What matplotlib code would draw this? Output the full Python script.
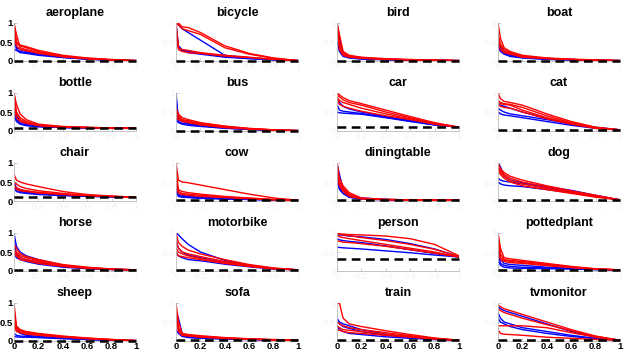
#!/usr/bin/env python3
import matplotlib
matplotlib.use("Agg")
import matplotlib.pyplot as plt

# recall points shared by every curve
recall = [0, 0.02, 0.05, 0.1, 0.2, 0.4, 0.6, 0.8, 1.0]

classes = ["aeroplane", "bicycle", "bird", "boat",
           "bottle", "bus", "car", "cat",
           "chair", "cow", "diningtable", "dog",
           "horse", "motorbike", "person", "pottedplant",
           "sheep", "sofa", "train", "tvmonitor"]

# chance level (dashed line) per class
baseline = [0.01, 0.01, 0.01, 0.01,
            0.07, 0.01, 0.1, 0.03,
            0.1, 0.02, 0.02, 0.03,
            0.03, 0.03, 0.32, 0.03,
            0.01, 0.02, 0.02, 0.02]

# precision at each recall point
aeroplane_red = [[1, 0.5, 0.42, 0.38, 0.28, 0.15, 0.08, 0.04, 0.01],
                 [0.9, 0.45, 0.4, 0.35, 0.25, 0.13, 0.07, 0.03, 0.01],
                 [1, 0.7, 0.35, 0.3, 0.22, 0.12, 0.06, 0.03, 0.01],
                 [0.6, 0.4, 0.3, 0.27, 0.2, 0.11, 0.06, 0.03, 0.01]]
aeroplane_blue = [[0.9, 0.3, 0.25, 0.22, 0.17, 0.1, 0.05, 0.03, 0.01],
                  [0.5, 0.35, 0.3, 0.25, 0.18, 0.1, 0.05, 0.02, 0.01],
                  [0.3, 0.28, 0.22, 0.2, 0.15, 0.09, 0.05, 0.02, 0.01]]

bicycle_red = [[1, 1, 0.9, 0.88, 0.75, 0.4, 0.2, 0.08, 0.01],
               [1, 0.95, 0.85, 0.8, 0.7, 0.35, 0.18, 0.07, 0.01],
               [1, 0.35, 0.3, 0.28, 0.22, 0.15, 0.1, 0.05, 0.01],
               [0.9, 0.3, 0.25, 0.22, 0.2, 0.13, 0.09, 0.04, 0.01]]
bicycle_blue = [[1, 0.95, 0.85, 0.75, 0.55, 0.15, 0.08, 0.04, 0.01],
                [1, 0.4, 0.3, 0.25, 0.2, 0.12, 0.07, 0.03, 0.01],
                [0.8, 0.35, 0.28, 0.22, 0.18, 0.1, 0.06, 0.03, 0.01]]

bird_red = [[1, 0.7, 0.25, 0.15, 0.1, 0.06, 0.04, 0.02, 0.01],
            [1, 0.5, 0.2, 0.13, 0.09, 0.05, 0.03, 0.02, 0.01],
            [0.9, 0.4, 0.18, 0.12, 0.08, 0.05, 0.03, 0.02, 0.01],
            [1, 0.3, 0.15, 0.1, 0.07, 0.04, 0.03, 0.02, 0.01]]
bird_blue = [[1, 0.6, 0.2, 0.1, 0.07, 0.04, 0.03, 0.02, 0.01],
             [0.8, 0.3, 0.15, 0.09, 0.06, 0.04, 0.03, 0.02, 0.01],
             [0.5, 0.25, 0.12, 0.08, 0.05, 0.03, 0.02, 0.01, 0.01]]

boat_red = [[1, 0.6, 0.35, 0.25, 0.15, 0.08, 0.05, 0.03, 0.01],
            [0.7, 0.45, 0.3, 0.22, 0.13, 0.07, 0.04, 0.02, 0.01],
            [0.6, 0.4, 0.25, 0.2, 0.12, 0.07, 0.04, 0.02, 0.01],
            [0.5, 0.3, 0.22, 0.18, 0.1, 0.06, 0.04, 0.02, 0.01]]
boat_blue = [[0.7, 0.35, 0.25, 0.18, 0.1, 0.05, 0.03, 0.02, 0.01],
             [0.5, 0.3, 0.2, 0.15, 0.09, 0.05, 0.03, 0.02, 0.01],
             [0.4, 0.25, 0.18, 0.12, 0.08, 0.04, 0.03, 0.02, 0.01]]

bottle_red = [[1, 0.7, 0.45, 0.3, 0.18, 0.12, 0.1, 0.08, 0.07],
              [1, 0.5, 0.35, 0.25, 0.16, 0.11, 0.09, 0.08, 0.07],
              [0.8, 0.45, 0.3, 0.22, 0.15, 0.1, 0.09, 0.08, 0.07],
              [0.6, 0.35, 0.25, 0.2, 0.14, 0.1, 0.09, 0.08, 0.07]]
bottle_blue = [[0.7, 0.4, 0.25, 0.18, 0.13, 0.1, 0.08, 0.07, 0.07],
               [0.5, 0.3, 0.2, 0.16, 0.12, 0.09, 0.08, 0.07, 0.07],
               [0.4, 0.25, 0.18, 0.14, 0.11, 0.09, 0.08, 0.07, 0.07]]

bus_red = [[0.6, 0.45, 0.35, 0.3, 0.22, 0.13, 0.07, 0.03, 0.01],
           [0.5, 0.4, 0.3, 0.27, 0.2, 0.12, 0.06, 0.03, 0.01],
           [0.4, 0.35, 0.28, 0.25, 0.18, 0.1, 0.06, 0.03, 0.01],
           [0.35, 0.3, 0.25, 0.22, 0.16, 0.09, 0.05, 0.02, 0.01]]
bus_blue = [[1, 0.3, 0.25, 0.2, 0.15, 0.09, 0.05, 0.02, 0.01],
            [0.9, 0.25, 0.2, 0.18, 0.14, 0.08, 0.04, 0.02, 0.01],
            [0.3, 0.22, 0.18, 0.15, 0.12, 0.07, 0.04, 0.02, 0.01]]

car_red = [[1, 0.95, 0.88, 0.8, 0.72, 0.55, 0.38, 0.22, 0.1],
           [0.95, 0.9, 0.82, 0.75, 0.68, 0.5, 0.35, 0.2, 0.1],
           [0.9, 0.8, 0.75, 0.7, 0.6, 0.45, 0.32, 0.19, 0.1],
           [0.85, 0.7, 0.65, 0.6, 0.52, 0.4, 0.3, 0.18, 0.1]]
car_blue = [[0.85, 0.75, 0.65, 0.58, 0.5, 0.38, 0.28, 0.17, 0.1],
            [0.7, 0.55, 0.52, 0.5, 0.46, 0.36, 0.26, 0.16, 0.1],
            [0.5, 0.48, 0.47, 0.46, 0.44, 0.35, 0.25, 0.16, 0.1]]

cat_red = [[1, 0.85, 0.78, 0.75, 0.68, 0.45, 0.25, 0.1, 0.03],
           [0.8, 0.75, 0.72, 0.7, 0.62, 0.4, 0.22, 0.09, 0.03],
           [0.75, 0.72, 0.7, 0.68, 0.55, 0.35, 0.2, 0.08, 0.03],
           [0.7, 0.65, 0.62, 0.6, 0.5, 0.32, 0.18, 0.07, 0.03]]
cat_blue = [[0.7, 0.68, 0.65, 0.6, 0.5, 0.33, 0.2, 0.1, 0.03],
            [0.6, 0.55, 0.5, 0.45, 0.4, 0.3, 0.18, 0.08, 0.03],
            [0.5, 0.45, 0.42, 0.4, 0.35, 0.25, 0.15, 0.07, 0.03]]

chair_red = [[0.7, 0.55, 0.5, 0.45, 0.38, 0.25, 0.17, 0.13, 0.1],
             [0.5, 0.45, 0.38, 0.33, 0.27, 0.2, 0.15, 0.12, 0.1],
             [0.4, 0.35, 0.3, 0.27, 0.23, 0.18, 0.14, 0.12, 0.1],
             [0.45, 0.3, 0.27, 0.25, 0.21, 0.17, 0.14, 0.12, 0.1]]
chair_blue = [[0.5, 0.35, 0.3, 0.25, 0.2, 0.16, 0.13, 0.11, 0.1],
              [0.4, 0.3, 0.25, 0.22, 0.19, 0.15, 0.13, 0.11, 0.1],
              [0.35, 0.25, 0.22, 0.2, 0.17, 0.14, 0.12, 0.11, 0.1]]

cow_red = [[1, 0.55, 0.5, 0.48, 0.42, 0.3, 0.18, 0.08, 0.02],
           [0.8, 0.3, 0.25, 0.22, 0.18, 0.12, 0.08, 0.04, 0.02],
           [0.6, 0.25, 0.2, 0.18, 0.15, 0.1, 0.07, 0.04, 0.02],
           [0.5, 0.2, 0.17, 0.15, 0.12, 0.09, 0.06, 0.03, 0.02]]
cow_blue = [[0.4, 0.2, 0.15, 0.12, 0.1, 0.07, 0.05, 0.03, 0.02],
            [0.3, 0.15, 0.12, 0.1, 0.08, 0.06, 0.04, 0.03, 0.02],
            [0.25, 0.12, 0.1, 0.09, 0.07, 0.05, 0.04, 0.03, 0.02]]

diningtable_red = [[1, 0.6, 0.4, 0.22, 0.08, 0.04, 0.03, 0.02, 0.02],
                   [1, 0.5, 0.35, 0.18, 0.07, 0.04, 0.03, 0.02, 0.02],
                   [0.8, 0.45, 0.3, 0.15, 0.06, 0.04, 0.03, 0.02, 0.02],
                   [0.7, 0.4, 0.25, 0.12, 0.06, 0.03, 0.03, 0.02, 0.02]]
diningtable_blue = [[1, 0.7, 0.3, 0.12, 0.08, 0.04, 0.03, 0.02, 0.02],
                    [0.8, 0.35, 0.2, 0.1, 0.06, 0.04, 0.03, 0.02, 0.02],
                    [0.6, 0.3, 0.2, 0.1, 0.05, 0.03, 0.03, 0.02, 0.02]]

dog_red = [[1, 0.85, 0.75, 0.65, 0.55, 0.4, 0.27, 0.15, 0.03],
           [0.9, 0.8, 0.7, 0.6, 0.5, 0.37, 0.25, 0.14, 0.03],
           [0.85, 0.75, 0.65, 0.55, 0.45, 0.33, 0.22, 0.12, 0.03],
           [0.8, 0.7, 0.6, 0.5, 0.4, 0.3, 0.2, 0.1, 0.03]]
dog_blue = [[1, 0.9, 0.65, 0.55, 0.48, 0.38, 0.28, 0.15, 0.03],
            [0.6, 0.55, 0.52, 0.5, 0.45, 0.35, 0.25, 0.13, 0.03],
            [0.5, 0.45, 0.42, 0.4, 0.38, 0.3, 0.22, 0.12, 0.03]]

horse_red = [[0.7, 0.6, 0.45, 0.38, 0.3, 0.17, 0.1, 0.05, 0.03],
             [0.6, 0.5, 0.4, 0.35, 0.27, 0.15, 0.09, 0.05, 0.03],
             [0.5, 0.45, 0.35, 0.3, 0.24, 0.14, 0.08, 0.05, 0.03],
             [0.45, 0.4, 0.3, 0.27, 0.2, 0.12, 0.07, 0.04, 0.03]]
horse_blue = [[1, 0.65, 0.5, 0.4, 0.3, 0.15, 0.08, 0.05, 0.03],
              [0.8, 0.45, 0.35, 0.3, 0.22, 0.12, 0.07, 0.04, 0.03],
              [0.5, 0.35, 0.3, 0.25, 0.18, 0.1, 0.06, 0.04, 0.03]]

motorbike_red = [[1, 0.75, 0.65, 0.55, 0.45, 0.3, 0.17, 0.08, 0.03],
                 [0.8, 0.6, 0.5, 0.45, 0.38, 0.25, 0.15, 0.07, 0.03],
                 [0.6, 0.5, 0.45, 0.4, 0.33, 0.22, 0.13, 0.06, 0.03],
                 [0.5, 0.4, 0.38, 0.35, 0.3, 0.2, 0.12, 0.06, 0.03]]
motorbike_blue = [[1, 0.95, 0.85, 0.7, 0.5, 0.28, 0.15, 0.07, 0.03],
                  [0.8, 0.6, 0.5, 0.42, 0.35, 0.22, 0.13, 0.06, 0.03],
                  [0.5, 0.4, 0.35, 0.3, 0.27, 0.18, 0.11, 0.05, 0.03]]

person_red = [[1, 0.98, 0.97, 0.96, 0.95, 0.92, 0.85, 0.7, 0.4],
              [1, 0.97, 0.95, 0.93, 0.88, 0.8, 0.7, 0.57, 0.38],
              [0.95, 0.9, 0.88, 0.85, 0.8, 0.7, 0.6, 0.5, 0.37],
              [0.8, 0.78, 0.76, 0.75, 0.72, 0.65, 0.56, 0.47, 0.37]]
person_blue = [[0.95, 0.95, 0.94, 0.92, 0.9, 0.83, 0.72, 0.58, 0.38],
               [0.85, 0.82, 0.8, 0.78, 0.75, 0.66, 0.56, 0.46, 0.37],
               [0.62, 0.62, 0.61, 0.6, 0.58, 0.53, 0.48, 0.42, 0.37]]

pottedplant_red = [[1, 0.6, 0.35, 0.32, 0.28, 0.2, 0.12, 0.06, 0.03],
                   [1, 0.45, 0.3, 0.28, 0.25, 0.18, 0.11, 0.05, 0.03],
                   [0.8, 0.35, 0.28, 0.25, 0.22, 0.16, 0.1, 0.05, 0.03],
                   [0.6, 0.3, 0.25, 0.22, 0.2, 0.14, 0.09, 0.05, 0.03]]
pottedplant_blue = [[0.9, 0.3, 0.2, 0.17, 0.15, 0.1, 0.07, 0.04, 0.03],
                    [0.5, 0.2, 0.15, 0.12, 0.1, 0.08, 0.06, 0.04, 0.03],
                    [0.3, 0.15, 0.1, 0.08, 0.07, 0.06, 0.05, 0.04, 0.03]]

sheep_red = [[1, 0.4, 0.3, 0.25, 0.2, 0.13, 0.08, 0.04, 0.01],
             [0.8, 0.35, 0.27, 0.23, 0.18, 0.12, 0.07, 0.04, 0.01],
             [0.5, 0.3, 0.25, 0.2, 0.16, 0.11, 0.07, 0.03, 0.01],
             [0.4, 0.25, 0.22, 0.18, 0.15, 0.1, 0.06, 0.03, 0.01]]
sheep_blue = [[0.4, 0.3, 0.2, 0.15, 0.12, 0.08, 0.05, 0.02, 0.01],
              [0.2, 0.15, 0.13, 0.12, 0.1, 0.07, 0.04, 0.02, 0.01],
              [0.12, 0.11, 0.1, 0.1, 0.09, 0.06, 0.04, 0.02, 0.01]]

sofa_red = [[1, 0.5, 0.2, 0.17, 0.14, 0.09, 0.06, 0.04, 0.02],
            [0.9, 0.35, 0.18, 0.15, 0.12, 0.08, 0.05, 0.03, 0.02],
            [0.7, 0.3, 0.16, 0.14, 0.11, 0.07, 0.05, 0.03, 0.02],
            [0.6, 0.25, 0.15, 0.13, 0.1, 0.07, 0.05, 0.03, 0.02]]
sofa_blue = [[0.8, 0.6, 0.2, 0.12, 0.09, 0.06, 0.04, 0.03, 0.02],
             [0.6, 0.3, 0.15, 0.1, 0.08, 0.06, 0.04, 0.03, 0.02],
             [0.3, 0.2, 0.12, 0.09, 0.07, 0.05, 0.04, 0.03, 0.02]]

train_red = [[1, 1, 0.6, 0.45, 0.38, 0.27, 0.17, 0.08, 0.02],
             [0.5, 0.45, 0.4, 0.35, 0.3, 0.22, 0.14, 0.07, 0.02],
             [0.4, 0.35, 0.3, 0.28, 0.25, 0.18, 0.12, 0.06, 0.02],
             [0.3, 0.28, 0.25, 0.22, 0.2, 0.15, 0.1, 0.05, 0.02]]
train_blue = [[0.6, 0.5, 0.45, 0.4, 0.3, 0.18, 0.11, 0.05, 0.02],
              [0.5, 0.45, 0.38, 0.33, 0.25, 0.15, 0.09, 0.04, 0.02],
              [0.4, 0.3, 0.25, 0.2, 0.17, 0.11, 0.07, 0.04, 0.02]]

tvmonitor_red = [[0.95, 0.9, 0.85, 0.8, 0.7, 0.5, 0.3, 0.13, 0.02],
                 [0.85, 0.8, 0.75, 0.7, 0.6, 0.43, 0.27, 0.12, 0.02],
                 [0.4, 0.4, 0.4, 0.4, 0.4, 0.35, 0.22, 0.1, 0.02],
                 [0.3, 0.2, 0.18, 0.17, 0.15, 0.1, 0.07, 0.04, 0.02]]
tvmonitor_blue = [[0.9, 0.85, 0.8, 0.75, 0.65, 0.45, 0.25, 0.1, 0.02],
                  [0.75, 0.6, 0.5, 0.45, 0.35, 0.25, 0.15, 0.07, 0.02],
                  [0.6, 0.5, 0.45, 0.38, 0.3, 0.2, 0.12, 0.06, 0.02]]

data = globals()

plt.rcParams["font.family"] = ["Liberation Sans", "DejaVu Sans"]
plt.rcParams["font.weight"] = "bold"

W, H = 627, 354
fig = plt.figure(figsize=(W / 100, H / 100), dpi=100)

col_left = [14, 176, 337, 498]
row_top = [23, 93, 163, 233, 303]
ax_w, ax_h = 122, 38
faint = "#f6f6f6"

for i, name in enumerate(classes):
    r, c = divmod(i, 4)
    ax = fig.add_axes([col_left[c] / W, 1 - (row_top[r] + ax_h) / H, ax_w / W, ax_h / H])
    for p in data[name + "_blue"]:
        ax.plot(recall, p, color="blue", lw=1.0)
    for p in data[name + "_red"]:
        ax.plot(recall, p, color="red", lw=1.0)
    # dashed chance line, not clipped so it stays full width at the x axis
    ax.plot([0, 1], [baseline[i], baseline[i]], color="black", lw=1.8,
            dashes=(3.5, 2.2), zorder=5, clip_on=False)
    ax.set_xlim(0, 1)
    ax.set_ylim(0, 1)
    ax.set_xticks([0, 0.2, 0.4, 0.6, 0.8, 1])
    ax.set_xticklabels(["0", "0.2", "0.4", "0.6", "0.8", "1"])
    ax.set_yticks([0, 0.5, 1])
    ax.set_yticklabels(["0", "0.5", "1"])
    ax.tick_params(direction="in", length=2, width=0.5, color="#bbbbbb",
                   labelsize=6.8, pad=1)
    if r != 4:
        ax.tick_params(axis="x", labelcolor=faint)
    if c != 0:
        ax.tick_params(axis="y", labelcolor=faint)
    for s in ["top", "right"]:
        ax.spines[s].set_visible(False)
    for s in ["left", "bottom"]:
        ax.spines[s].set_color("#bbbbbb")
        ax.spines[s].set_linewidth(0.6)
    ax.set_title(name, fontsize=9, fontweight="bold", pad=5)

fig.savefig("out.png", dpi=100)
